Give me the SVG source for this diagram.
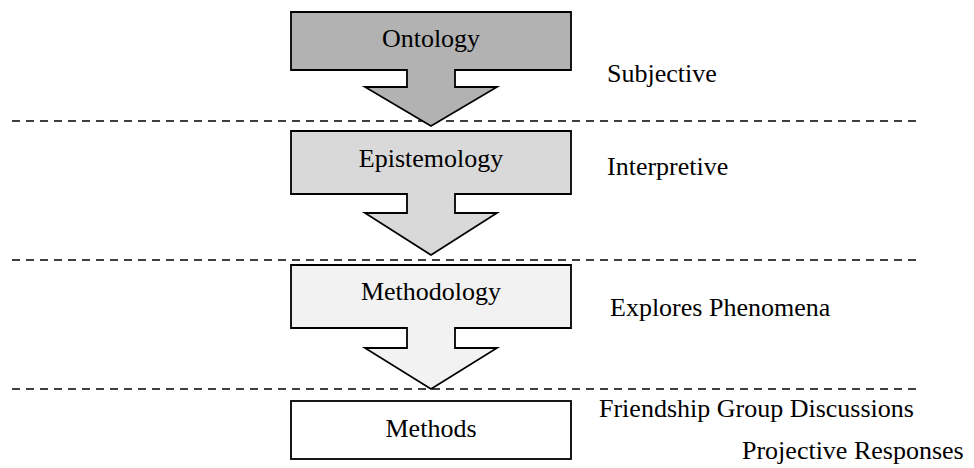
<svg xmlns="http://www.w3.org/2000/svg" width="974" height="468" viewBox="0 0 974 468" font-family="'Liberation Serif', 'Times New Roman', serif">
  <style>
    .callout { stroke: #000; stroke-width: 1.8; stroke-linejoin: miter; }
    text { font-family: 'Liberation Serif', 'Times New Roman', serif; font-size: 26px; fill: #000; }
    .mid { text-anchor: middle; }
    .sep { stroke: #000; stroke-width: 1.6; stroke-dasharray: 8 6; fill: none; }
  </style>
  <rect width="974" height="468" fill="#fff"/>

  <!-- level separators -->
  <g id="separators">
    <line class="sep" x1="12" y1="121" x2="916" y2="121"/>
    <line class="sep" x1="12" y1="260" x2="916" y2="260"/>
    <line class="sep" x1="12" y1="389" x2="916" y2="389"/>
  </g>

  <!-- down-arrow callouts linking the levels -->
  <g id="connectors">
    <path id="ontology-shape" class="callout" fill="#b2b2b2" d="M291,12 H571 V70 H455 V87 H497 L431,126 L365,87 H407 V70 H291 Z"/>
    <path id="epistemology-shape" class="callout" fill="#d9d9d9" d="M291,131 H571 V194 H455 V213 H497 L431,255 L365,213 H407 V194 H291 Z"/>
    <path id="methodology-shape" class="callout" fill="#f2f2f2" d="M291,265 H571 V328 H455 V348 H497 L431,389 L365,348 H407 V328 H291 Z"/>
  </g>

  <g id="ontology">
    <text class="mid" x="431" y="47" font-family="Liberation Serif">Ontology</text>
  </g>
  <g id="epistemology">
    <text class="mid" x="431" y="167" font-family="Liberation Serif">Epistemology</text>
  </g>
  <g id="methodology">
    <text class="mid" x="431" y="300" font-family="Liberation Serif">Methodology</text>
  </g>
  <g id="methods">
    <rect class="callout" x="291" y="401" width="280" height="58" fill="#fff"/>
    <text class="mid" x="431" y="437" font-family="Liberation Serif">Methods</text>
  </g>

  <!-- level descriptions -->
  <g id="descriptions">
    <text x="607" y="82" font-family="Liberation Serif">Subjective</text>
    <text x="607" y="175" font-family="Liberation Serif">Interpretive</text>
    <text x="610" y="316" font-family="Liberation Serif">Explores Phenomena</text>
    <text x="599" y="417" font-family="Liberation Serif">Friendship Group Discussions</text>
    <text x="742" y="459" font-family="Liberation Serif">Projective Responses</text>
  </g>
</svg>
